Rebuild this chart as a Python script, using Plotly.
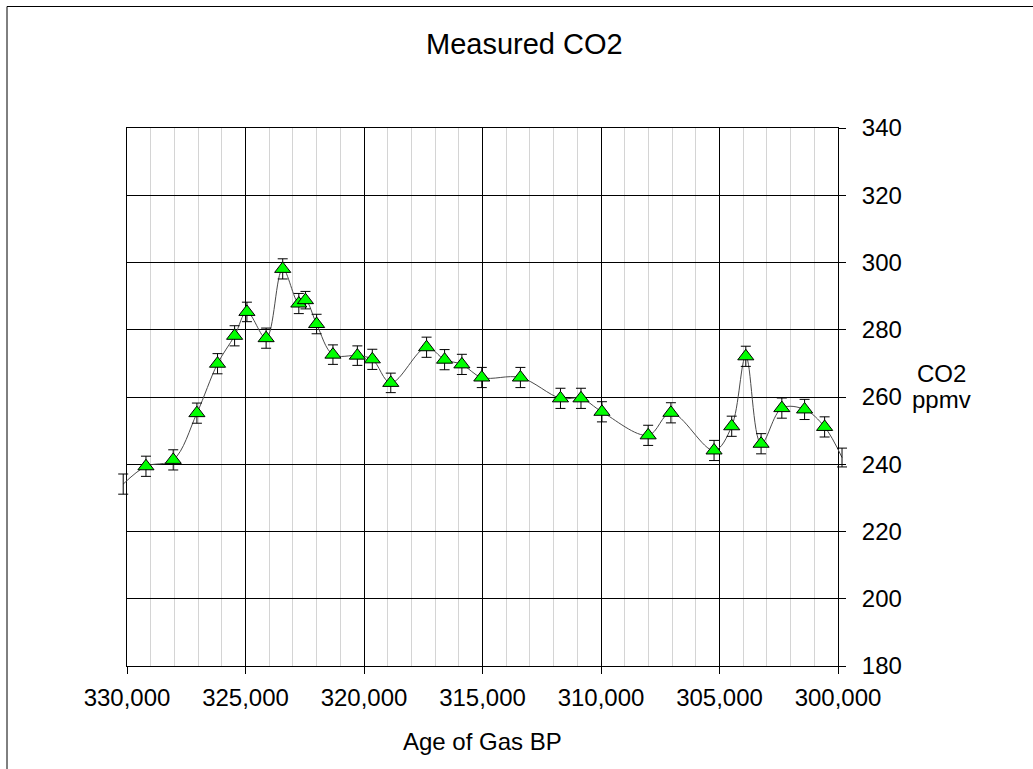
import plotly.graph_objects as go

# Data
age = [330160, 329200, 328050, 327050, 326180, 325460, 324940, 324130, 323430,
       322750, 322470, 322000, 321310, 320280, 319650, 318870, 317360, 316600,
       315870, 315030, 313400, 311710, 310845, 309960, 308010, 307050, 305230,
       304485, 303890, 303245, 302370, 301410, 300565, 299830]
co2 = [234.1, 239.4, 241.3, 255.2, 269.9, 278.2, 285.3, 277.5, 298.1,
       287.8, 288.8, 281.7, 272.6, 272.3, 271.2, 264.2, 274.8, 271.1,
       269.7, 265.8, 265.8, 259.6, 259.6, 255.6, 248.6, 255.3, 244.1,
       251.3, 272.1, 246.1, 256.7, 256.3, 251.1, 242.0]
err = [3.0, 3.0, 3.0, 3.0, 3.0, 3.0, 2.9, 3.0, 3.0,
       3.0, 2.6, 2.9, 2.9, 2.9, 3.0, 2.9, 3.0, 3.0,
       3.0, 3.0, 3.0, 3.0, 3.0, 3.0, 3.0, 3.0, 3.0,
       3.0, 3.0, 3.0, 3.0, 3.0, 3.0, 2.8]

x_range = [330000, 300000]
y_range = [180, 340]

W, H = 1033, 769
# visible plot frame (pixels)
FL, FR, FT, FB = 127, 838, 128, 666
# drawing area (wider than the frame so marks just outside stay visible)
PL, PR = 100, 880
pw, ph = PR - PL, FB - FT

xmin, xmax = min(x_range), max(x_range)
yrs_per_px = (xmax - xmin) / (FR - FL)
x2_range = [x_range[0] + (FL - PL) * yrs_per_px, x_range[1] - (PR - FR) * yrs_per_px]


def px(xp):
    return (xp - PL) / pw


def py(yp):
    return (FB - yp) / ph


inside = [i for i, a in enumerate(age) if xmin <= a <= xmax]

fig = go.Figure()

# empty trace so the framed axes (x, y) get drawn
fig.add_trace(go.Scatter(x=[None], y=[None], mode="markers", xaxis="x", yaxis="y",
                         showlegend=False, hoverinfo="skip"))

# smoothed connecting line
fig.add_trace(go.Scatter(
    x=age, y=co2, mode="lines", xaxis="x2", yaxis="y2",
    line=dict(color="#4a4a4a", width=1, shape="spline", smoothing=1.0),
    showlegend=False, hoverinfo="skip"))

# error bars for every point
fig.add_trace(go.Scatter(
    x=age, y=co2, mode="markers", xaxis="x2", yaxis="y2",
    marker=dict(size=2, opacity=0),
    error_y=dict(type="data", array=err, visible=True,
                 color="black", thickness=1, width=5),
    showlegend=False, hoverinfo="skip"))

# markers only for points inside the axis range
fig.add_trace(go.Scatter(
    x=[age[i] for i in inside], y=[co2[i] for i in inside], mode="markers",
    xaxis="x2", yaxis="y2",
    marker=dict(symbol="triangle-up", size=14, color="#00ff00",
                line=dict(color="black", width=1)),
    showlegend=False))

font = "Arial, Liberation Sans, sans-serif"

fig.update_layout(
    width=W, height=H,
    margin=dict(l=PL, r=W - PR, t=FT, b=H - FB, pad=0),
    paper_bgcolor="white", plot_bgcolor="rgba(0,0,0,0)",
    font=dict(family=font, size=24, color="black"),
    showlegend=False,
    xaxis=dict(
        domain=[px(FL), px(FR)], anchor="y",
        range=x_range, tick0=300000, dtick=5000, tickformat=",d",
        showgrid=True, gridcolor="black", gridwidth=1,
        minor=dict(dtick=1000, showgrid=True, gridcolor="#d4d4d4", gridwidth=1,
                   ticks=""),
        showline=True, linecolor="black", linewidth=1, mirror=True,
        ticks="outside", ticklen=7, tickcolor="black",
        ticklabelstandoff=3,
        zeroline=False,
        tickfont=dict(size=24),
    ),
    yaxis=dict(
        domain=[0, 1], anchor="x",
        range=y_range, dtick=20, side="right",
        showgrid=True, gridcolor="black", gridwidth=1,
        showline=True, linecolor="black", linewidth=1, mirror=True,
        ticks="outside", ticklen=7, tickcolor="black",
        ticklabelstandoff=11,
        zeroline=False,
        tickfont=dict(size=24),
    ),
    xaxis2=dict(domain=[0, 1], anchor="y2", range=x2_range, visible=False,
                showgrid=False, zeroline=False, fixedrange=True),
    yaxis2=dict(domain=[0, 1], anchor="x2", range=y_range, visible=False,
                showgrid=False, zeroline=False, fixedrange=True),
    annotations=[
        dict(text="Measured CO2", x=px(524), y=py(44), xref="paper", yref="paper",
             showarrow=False, xanchor="center", yanchor="middle",
             font=dict(size=29, family=font)),
        dict(text="Age of Gas BP", x=px(482), y=py(741), xref="paper", yref="paper",
             showarrow=False, xanchor="center", yanchor="middle",
             font=dict(size=24, family=font)),
        dict(text="CO2", x=px(941), y=py(373), xref="paper", yref="paper",
             showarrow=False, xanchor="center", yanchor="middle",
             font=dict(size=24, family=font)),
        dict(text="ppmv", x=px(941), y=py(399), xref="paper", yref="paper",
             showarrow=False, xanchor="center", yanchor="middle",
             font=dict(size=24, family=font)),
    ],
    shapes=[
        dict(type="rect", xref="paper", yref="paper",
             x0=px(7), x1=px(1045), y0=py(785), y1=py(6.5),
             line=dict(color="black", width=1), fillcolor="rgba(0,0,0,0)",
             layer="below"),
    ],
)

fig.write_html("out.html",
               config={"displayModeBar": False},
               post_script="document.body.style.margin='0';"
                           "document.body.style.overflow='hidden';")
